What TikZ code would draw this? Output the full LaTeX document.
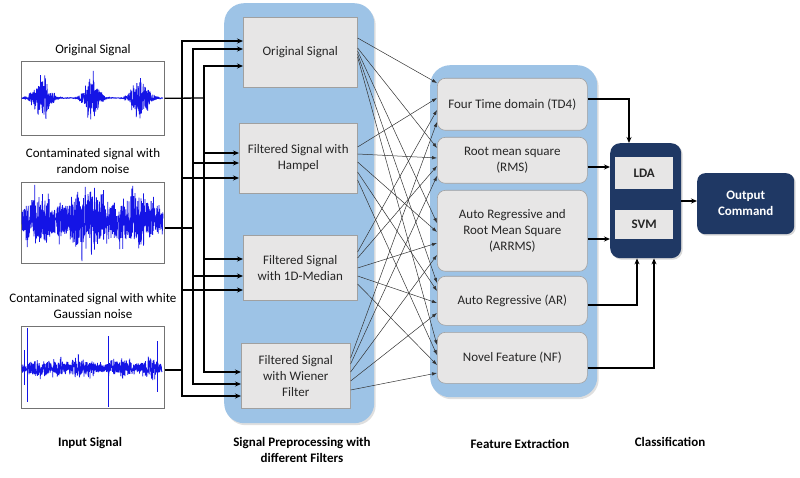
\documentclass[tikz,border=0pt]{standalone}
\usepackage{fontspec}
\setmainfont{Carlito}
\usetikzlibrary{arrows.meta,calc,shadows}
\definecolor{cblue}{RGB}{157,195,230}
\definecolor{cnavy}{RGB}{31,56,100}
\definecolor{cgray}{RGB}{231,230,230}
\definecolor{cedge}{RGB}{160,160,160}
\definecolor{csig}{RGB}{20,20,230}
\definecolor{ctext}{RGB}{38,38,38}
\begin{document}
\begin{tikzpicture}[x=1pt,y=-1pt,
  font=\fontsize{13}{16}\selectfont, text=ctext,
  container/.style={fill=cblue, rounded corners=20pt, anchor=north west, inner sep=0pt,
     drop shadow={opacity=0.25, shadow xshift=1.5pt, shadow yshift=-2pt}},
  prebox/.style={draw=cedge, fill=cgray, line width=0.6pt, anchor=north west, align=center, inner sep=2pt},
  featbox/.style={prebox, rounded corners=8pt},
  darkbox/.style={fill=cnavy, rounded corners=10pt, anchor=north west, inner sep=2pt,
     drop shadow={opacity=0.3, shadow xshift=1.5pt, shadow yshift=-1.5pt}},
  clsbox/.style={fill=cgray, anchor=north west, inner sep=0pt, font=\fontsize{13}{16}\selectfont\bfseries},
  sigframe/.style={draw=black!55, line width=0.6pt, anchor=north west, inner sep=0pt},
  inarrow/.style={line width=1.3pt, draw=black, -{Stealth[length=6pt,width=5pt]}},
  xarrow/.style={line width=0.5pt, draw=black!80, -{Latex[length=5pt,width=3.5pt]}},
  carrow/.style={line width=1.2pt, draw=black, -{Stealth[length=6pt,width=5pt]}},
  lbl/.style={font=\fontsize{13}{16}\selectfont\bfseries, align=center, text=black},
  captext/.style={align=center, text=black},
  sigline/.style={draw=csig, line width=0.75pt, line join=bevel},
  declare function={
    gb(\t,\c,\s)=exp(-min(0.5*((\t-\c)/\s)*((\t-\c)/\s),30));
    envA(\t)=1+32*gb(\t,21,7)+34*gb(\t,71,6)+32*gb(\t,119,7);
    envB(\t)=15+34*gb(\t,18,10)+42*gb(\t,70,12)+34*gb(\t,118,11)+14*gb(\t,45,6)+14*gb(\t,95,6);
    envC(\t)=6+10*gb(\t,18,8)+12*gb(\t,62,9)+11*gb(\t,100,8)+12*gb(\t,130,6)+7*gb(\t,40,6);
  }]
\useasboundingbox (0,0) rectangle (800,478);
\fill[white] (0,0) rectangle (800,478);

% ---------- input signals ----------
\node[captext] (t1) at (93,50) {Original Signal};
\node[captext] (t2) at (93,161) {Contaminated signal with\\random noise};
\node[captext] (t3) at (93,306) {Contaminated signal with white\\Gaussian noise};

\node[sigframe, minimum width=143pt, minimum height=74pt] (sig1) at (21,61) {};
\node[sigframe, minimum width=143pt, minimum height=81pt] (sig2) at (21,182) {};
\node[sigframe, minimum width=143pt, minimum height=82pt] (sig3) at (21,326) {};

\begin{scope}
  \clip (21.5,61.5) rectangle (163.5,134.5);
  \pgfmathsetseed{7}
  \draw[sigline] plot[domain=0:142, samples=800] ({21+\x}, {98+envA(\x)*rand*(0.4+0.6*rnd*rnd)});
\end{scope}
\begin{scope}
  \clip (21.5,182.5) rectangle (163.5,262.5);
  \pgfmathsetseed{21}
  \draw[sigline] plot[domain=0:142, samples=850] ({21+\x}, {221+envB(\x)*rand*(0.4+0.6*rnd*rnd)});
\end{scope}
\begin{scope}
  \clip (21.5,326.5) rectangle (163.5,407.5);
  \pgfmathsetseed{5}
  \draw[sigline] plot[domain=0:141, samples=800] ({21+\x}, {368+envC(\x)*rand*(0.4+0.6*rnd*rnd)});
  \draw[sigline, line width=0.8pt] (27,328) -- (27,402);
  \draw[sigline, line width=0.8pt] (108,336) -- (108,407);
  \draw[sigline, line width=0.8pt] (157,341) -- (157,392);
  \draw[sigline, line width=0.7pt] (24,350) -- (24,385);
\end{scope}

\node[lbl] (l1) at (90,443) {Input Signal};

% ---------- containers ----------
\node[container, minimum width=150pt, minimum height=420pt] (preC) at (224,3) {};
\node[container, minimum width=167pt, minimum height=332pt] (featC) at (430,65) {};

% ---------- preprocessing boxes ----------
\node[prebox, minimum width=114pt, minimum height=70pt] (p1) at (243,17) {Original Signal};
\node[prebox, minimum width=118pt, minimum height=70pt] (p2) at (239,123) {Filtered Signal with\\Hampel};
\node[prebox, minimum width=114pt, minimum height=65pt] (p3) at (243,235) {Filtered Signal\\with 1D-Median};
\node[prebox, minimum width=109pt, minimum height=65pt] (p4) at (241,343) {Filtered Signal\\with Wiener\\Filter};

\node[lbl] (l2) at (302,450) {Signal Preprocessing with\\different Filters};

% ---------- feature boxes ----------
\node[featbox, minimum width=150pt, minimum height=52pt] (f1) at (437,78) {Four Time domain (TD4)};
\node[featbox, minimum width=150pt, minimum height=46pt] (f2) at (437,137) {Root mean square\\(RMS)};
\node[featbox, minimum width=150pt, minimum height=81pt] (f3) at (437,190) {Auto Regressive and\\Root Mean Square\\(ARRMS)};
\node[featbox, minimum width=150pt, minimum height=49pt] (f4) at (437,276) {Auto Regressive (AR)};
\node[featbox, minimum width=150pt, minimum height=51pt] (f5) at (437,332) {Novel Feature (NF)};

\node[lbl] (l3) at (520,444) {Feature Extraction};

% ---------- classification ----------
\node[darkbox, minimum width=71pt, minimum height=115pt] (cls) at (610,143) {};
\node[clsbox, minimum width=58pt, minimum height=32pt] (lda) at (615,157) {LDA};
\node[clsbox, minimum width=58pt, minimum height=29pt] (svm) at (615,210) {SVM};
\node[darkbox, minimum width=97pt, minimum height=61pt, rounded corners=8pt, text=white,
      align=center, font=\fontsize{13}{16}\selectfont\bfseries] (out) at (697,173) {Output\\Command};

\node[lbl] (l4) at (670,442) {Classification};

% ---------- input connectors ----------
\coordinate (jA) at (204,98);
\coordinate (jB) at (193,228);
\coordinate (jC) at (182,370);
\draw[line width=1.3pt] (sig1.east) -- (jA);
\draw[line width=1.3pt] (sig2.east |- jB) -- (jB);
\draw[line width=1.3pt] (sig3.east |- jC) -- (jC);

\draw[inarrow] (jA) |- (p1.west |- 0,66);
\draw[inarrow] (jA) |- (p2.west |- 0,153);
\draw[inarrow] (jA) |- (p3.west |- 0,259);
\draw[inarrow] (jA) |- (p4.west |- 0,372);
\draw[inarrow] (jB) |- (p1.west |- 0,49);
\draw[inarrow] (jB) |- (p2.west |- 0,163);
\draw[inarrow] (jB) |- (p3.west |- 0,276);
\draw[inarrow] (jB) |- (p4.west |- 0,384);
\draw[inarrow] (jC) |- (p1.west |- 0,41);
\draw[inarrow] (jC) |- (p2.west |- 0,178);
\draw[inarrow] (jC) |- (p3.west |- 0,290);
\draw[inarrow] (jC) |- (p4.west |- 0,396);

% ---------- preprocessing -> features ----------
\foreach \s/\sy/\t/\ty in {
  p1/38/f1/83, p1/48/f2/148, p1/51/f3/223, p1/54/f4/283, p1/57/f5/345,
  p2/147/f1/98, p2/154/f2/158, p2/162/f3/232, p2/172/f4/291, p2/180/f5/355,
  p3/252/f1/110, p3/258/f2/166, p3/268/f3/243, p3/276/f4/303, p3/284/f5/365,
  p4/358/f1/122, p4/364/f2/176, p4/372/f3/255, p4/381/f4/313, p4/390/f5/373}
  \draw[xarrow] (\s.east |- 0,\sy) -- (\t.west |- 0,\ty);

% ---------- features -> classification ----------
\draw[carrow] (f1.east |- 0,99) -| (cls.north -| 629,0);
\draw[carrow] (f2.east |- 0,167) -- (cls.west |- 0,167);
\draw[carrow] (f3.east |- 0,239) -- (cls.west |- 0,239);
\draw[carrow] (f4.east |- 0,305) -| (cls.south -| 637,0);
\draw[carrow] (f5.east |- 0,368) -| (cls.south -| 654,0);
\draw[carrow] (cls.east |- 0,201) -- (out.west |- 0,201);
\end{tikzpicture}
\end{document}
